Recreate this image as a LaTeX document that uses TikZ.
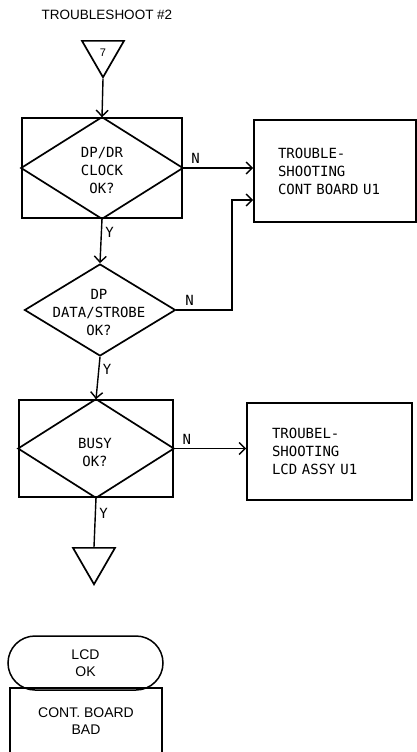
\documentclass[tikz,border=0pt]{standalone}
\usepackage{fontspec}
\setmainfont{Liberation Sans}
\newfontfamily\chartfont{DejaVu Sans Mono}
\usetikzlibrary{shapes.geometric,arrows.meta}

\tikzset{
  box/.style={draw, line width=1.7pt, inner sep=0pt},
  decision/.style={draw, diamond, line width=1.7pt, inner sep=0pt},
  connector/.style={draw, regular polygon, regular polygon sides=3, shape border rotate=180,
    minimum size=48.5pt, inner sep=0pt, line width=1.7pt},
  chart/.style={font=\chartfont\fontsize{14}{18}\selectfont, align=center},
  memo/.style={font=\fontsize{14}{16.5}\selectfont, align=center},
  flow/.style={line width=1.4pt, -{Straight Barb[length=6pt,width=12pt]}},
  line/.style={line width=1.4pt}
}

\begin{document}
\begin{tikzpicture} [x=1pt, y=-1pt]
\useasboundingbox (0,0) rectangle (417,752);

\node (title) at (107,15) [font=\fontsize{13.5}{16}\selectfont] {TROUBLESHOOT \#2};

% off-page connectors
\node (start) [connector, font=\fontsize{11}{12}\selectfont] at (103,53) {7};
\node (goon) [connector] at (94,560) {};

% decision boxes
\node (b1) [box, minimum width=160pt, minimum height=100pt] at (102,168) {};
\draw [line width=1.7pt] (b1.north) -- (b1.east) -- (b1.south) -- (b1.west) -- cycle;
\node (q1) [chart] at (102,170) {DP/DR\\CLOCK\\OK?};

\node (d2) [decision, minimum width=151pt, minimum height=92pt] at (100,310) {};
\node (q2) [chart] at (99,312) {DP\\DATA/STROBE\\OK?};

\node (b3) [box, minimum width=154pt, minimum height=97pt] at (96,448.5) {};
\draw [line width=1.7pt] (b3.north) -- (b3.east) -- (b3.south) -- (b3.west) -- cycle;
\node (q3) [chart] at (95,452) {BUSY\\OK?};

% action boxes
\node (r1) [box, chart, align=left, text width=114pt, minimum width=162pt, minimum height=102pt]
  at (335,171) {TROUBLE-\\SHOOTING\\CONT BOARD U1};
\node (r2) [box, chart, align=left, text width=115pt, minimum width=165pt, minimum height=97pt]
  at (329.5,451.5) {TROUBEL-\\SHOOTING\\LCD ASSY U1};

% result
\node (lcd) [draw, line width=1.5pt, rounded corners=27pt, minimum width=155pt, minimum height=54pt,
  memo] at (85.5,663) {LCD\\OK};
\node (bad) [draw, line width=1.5pt, minimum width=152pt, minimum height=66pt, memo]
  at (86,721) {CONT. BOARD\\BAD};

% connectors
\draw [flow] (start.south) -- (b1.north);
\draw [flow] (b1.east) -- node [chart, above, pos=0.18] (n1) {N} (b1.east -| r1.west);
\draw [flow] (b1.south) -- node [chart, right, pos=0.3] (y1) {Y} (d2.north);

\coordinate (join) at (232,200);
\draw [flow] (d2.east) -| node [chart, above, pos=0.12] (n2) {N} (join) -- (join -| r1.west);
\draw [flow] (d2.south) -- node [chart, right, pos=0.3] (y2) {Y} (b3.north);

\draw [flow] (b3.east) -- node [chart, above, pos=0.18] (n3) {N} (b3.east -| r2.west);
\draw [line] (b3.south) -- node [chart, right, pos=0.32] (y3) {Y} (goon.north);
\end{tikzpicture}
\end{document}
